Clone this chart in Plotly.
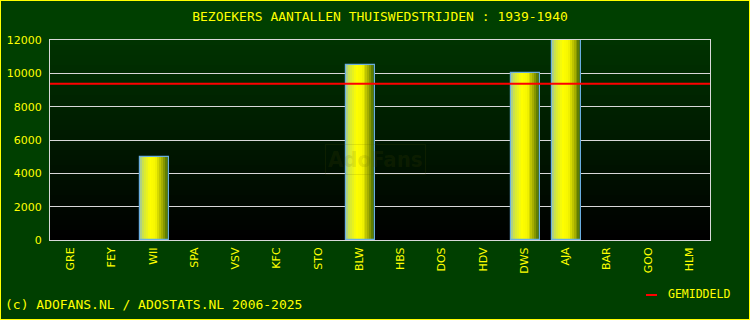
import numpy as np
import plotly.graph_objects as go

# ---- data ----
teams = ["GRE", "FEY", "WII", "SPA", "VSV", "KFC", "STO", "BLW",
         "HBS", "DOS", "HDV", "DWS", "AJA", "BAR", "GOO", "HLM"]
visitors = [0, 0, 5000, 0, 0, 0, 0, 10500, 0, 0, 0, 10000, 12000, 0, 0, 0]
title_text = "BEZOEKERS AANTALLEN THUISWEDSTRIJDEN : 1939-1940"
footer_text = "(c) ADOFANS.NL / ADOSTATS.NL 2006-2025"
legend_text = "GEMIDDELD"
y_ticks = [0, 2000, 4000, 6000, 8000, 10000, 12000]
y_tick_labels = ["0", "2000", "4000", "6000", "8000", "10000", "12000"]

played = [v for v in visitors if v > 0]
average = float(np.mean(played))

# ---- layout constants ----
W, H = 750, 320
ML, MR, MT, MB = 50, 40, 40, 80
PW, PH = W - ML - MR, H - MT - MB

def px_x(p):
    return (p - ML) / PW

def px_y(p):
    return (H - MB - p) / PH

x_idx = list(range(len(teams)))
y_plot = [v if v > 0 else None for v in visitors]

fig = go.Figure()

# gradient bars from thin overlaid slices
stops = [
    (0.00, (160, 200, 160)),
    (0.12, (210, 230, 60)),
    (0.35, (255, 255, 0)),
    (0.55, (245, 245, 0)),
    (0.78, (160, 170, 0)),
    (1.00, (45, 90, 0)),
]

def interp(t):
    for (t0, c0), (t1, c1) in zip(stops[:-1], stops[1:]):
        if t0 <= t <= t1:
            f = (t - t0) / (t1 - t0) if t1 > t0 else 0
            return tuple(int(round(a + (b - a) * f)) for a, b in zip(c0, c1))
    return stops[-1][1]

bar_w = 0.70
shift = 0.03
n_slices = 15
sw = bar_w / n_slices
for i in range(n_slices):
    t = (i + 0.5) / n_slices
    c = interp(t)
    fig.add_trace(go.Bar(
        x=x_idx, y=y_plot, width=sw * 1.08, offset=-bar_w / 2 + shift + i * sw,
        marker=dict(color="rgb(%d,%d,%d)" % c, line=dict(width=0)),
        showlegend=False, hoverinfo="skip"))

# outline
fig.add_trace(go.Bar(
    x=x_idx, y=y_plot, width=bar_w, offset=-bar_w / 2 + shift,
    marker=dict(color="rgba(0,0,0,0)", line=dict(color="#6aaee0", width=1.2)),
    showlegend=False, name="Bezoekers"))

shapes = []
# plot background gradient (top dark green to black)
n_bg = 40
for i in range(n_bg):
    t = i / n_bg
    g = int(round(52 * t))
    shapes.append(dict(type="rect", xref="paper", yref="paper",
                       x0=0, x1=1, y0=t, y1=(i + 1) / n_bg + 0.002,
                       fillcolor="rgb(0,%d,0)" % g, line=dict(width=0),
                       layer="below"))
# average line
shapes.append(dict(type="line", xref="paper", yref="y", x0=0, x1=1,
                   y0=average, y1=average, line=dict(color="#ff0000", width=2)))
# legend line
shapes.append(dict(type="line", xref="paper", yref="paper",
                   x0=px_x(646), x1=px_x(657), y0=px_y(295), y1=px_y(295),
                   line=dict(color="#ff0000", width=2)))
# outer yellow border
shapes.append(dict(type="rect", xref="paper", yref="paper",
                   x0=px_x(0), x1=px_x(W), y0=px_y(H), y1=px_y(0),
                   line=dict(color="#ffff00", width=2)))

annotations = [
    dict(text=footer_text, xref="paper", yref="paper", x=px_x(3), y=px_y(304),
         xanchor="left", yanchor="middle", showarrow=False,
         font=dict(family="DejaVu Sans Mono", size=13, color="#ffff00")),
    dict(text=legend_text, xref="paper", yref="paper", x=px_x(666), y=px_y(294),
         xanchor="left", yanchor="middle", showarrow=False,
         font=dict(family="DejaVu Sans Mono", size=11.5, color="#ffff00")),
    dict(text="<b>AdoFans</b>", xref="paper", yref="paper", x=px_x(375), y=px_y(159),
         xanchor="center", yanchor="middle", showarrow=False,
         font=dict(family="DejaVu Sans Condensed", size=22, color="rgba(90,90,0,0.14)"),
         bordercolor="rgba(90,90,0,0.14)", borderwidth=1, borderpad=2),
]

fig.update_layout(
    width=W, height=H,
    margin=dict(l=ML, r=MR, t=MT, b=MB, autoexpand=False),
    paper_bgcolor="#003f00",
    plot_bgcolor="rgba(0,0,0,0)",
    barmode="overlay",
    bargap=0,
    showlegend=False,
    title=dict(text=title_text, x=0.5, xref="paper", xanchor="center",
               y=1 - 16 / H, yref="container", yanchor="middle",
               font=dict(family="DejaVu Sans Mono", size=13, color="#ffff00")),
    xaxis=dict(range=[-0.5, len(teams) - 0.5], tickvals=x_idx, ticktext=teams,
               tickangle=-90, showgrid=False, zeroline=False, automargin=False,
               showline=True, linecolor="#d8d8d8", linewidth=1, mirror=True,
               ticks="", ticklabelstandoff=2,
               tickfont=dict(family="DejaVu Sans", size=11, color="#ffff00")),
    yaxis=dict(range=[0, 12000], tickvals=y_ticks, ticktext=y_tick_labels,
               showgrid=True, gridcolor="#d8d8d8", gridwidth=1, zeroline=False,
               automargin=False,
               showline=True, linecolor="#d8d8d8", linewidth=1, mirror=True,
               ticks="", ticklabelstandoff=5,
               tickfont=dict(family="DejaVu Sans", size=11, color="#ffff00")),
    shapes=shapes,
    annotations=annotations,
)

fig.write_html("out.html")
